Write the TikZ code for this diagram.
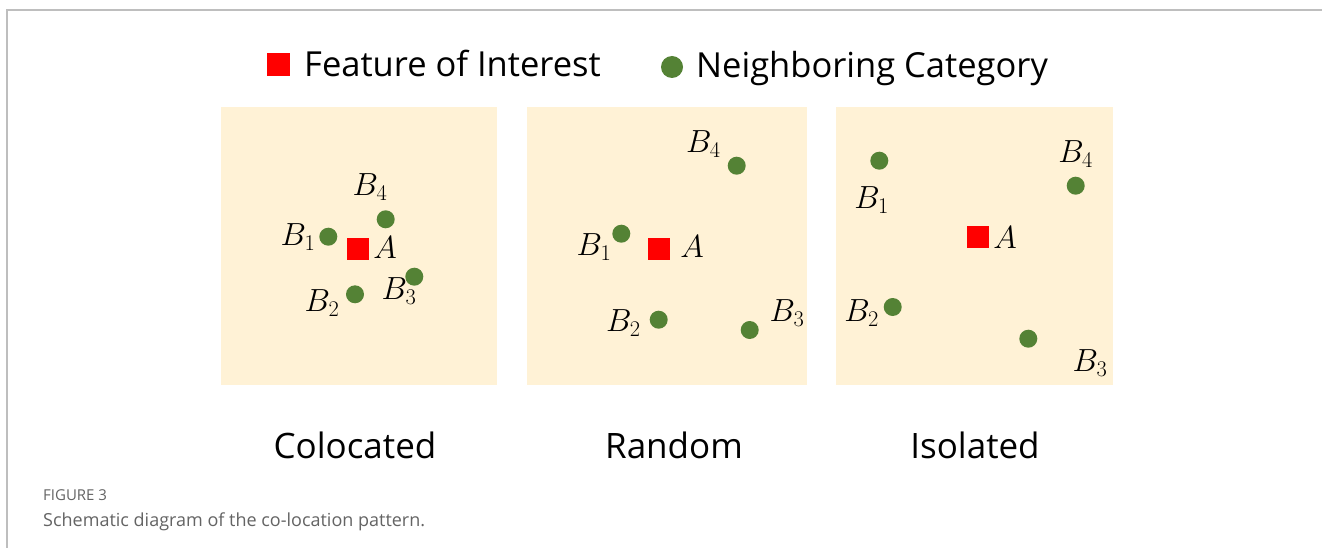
\documentclass[tikz,border=0pt]{standalone}
\usepackage{fix-cm}
\usepackage{fontspec}
\setmainfont{Open Sans}
\newfontfamily\legfont{Open Sans}
\newfontfamily\capfont{Open Sans}
\definecolor{panelbg}{RGB}{255,242,214}
\definecolor{dotgreen}{RGB}{84,130,53}
\definecolor{framegray}{RGB}{190,190,190}
\definecolor{capgray}{RGB}{100,100,100}
\tikzset{
  panel/.style={fill=panelbg, draw=none},
  feat/.style={fill=red, draw=none, minimum size=22pt, inner sep=0pt},
  nb/.style={circle, fill=dotgreen, draw=none, minimum size=18pt, inner sep=0pt},
  lbl/.style={inner sep=0pt, font=\fontsize{32}{36}\selectfont},
  ttl/.style={inner sep=0pt, anchor=base, font=\fontsize{35}{40}\selectfont},
  leg/.style={inner sep=0pt, anchor=base west, font=\legfont\fontsize{34.5}{40}\selectfont},
}
\begin{document}
\begin{tikzpicture}[x=1pt,y=-1pt]
\useasboundingbox (0,0) rectangle (1322,548);
\fill[white] (0,0) rectangle (1322,548);
\draw[framegray, line width=1.5pt] (1322,10) -- (7,10) -- (7,548);
% legend
\node[feat, minimum size=23pt] (legA) at (278,65) {};
\node[leg] (legAt) at (304,77) {Feature of Interest};
\node[nb, minimum size=22pt] (legB) at (672,67) {};
\node[leg] (legBt) at (696,78) {Neighboring Category};
% panels
\fill[panel] (221,107) rectangle (497,385);
\fill[panel] (527,107) rectangle (807,385);
\fill[panel] (836,107) rectangle (1113,385);
% panel 1: colocated
\node[feat] (p1A) at (358,248.5) {};
\node[lbl] (p1Al) at (385,248) {$A$};
\node[nb] (p1B1) at (328.3,236.7) {};
\node[lbl] (p1B1l) at (298,237) {$B_1$};
\node[nb] (p1B2) at (355,294.3) {};
\node[lbl] (p1B2l) at (322,303) {$B_2$};
\node[nb] (p1B3) at (414.3,276.7) {};
\node[lbl] (p1B3l) at (399,291) {$B_3$};
\node[nb] (p1B4) at (385.7,219.3) {};
\node[lbl] (p1B4l) at (370,187) {$B_4$};
% panel 2: random
\node[feat] (p2A) at (658.7,248.5) {};
\node[lbl] (p2Al) at (692,246.7) {$A$};
\node[nb] (p2B1) at (621.3,233.7) {};
\node[lbl] (p2B1l) at (594,246.7) {$B_1$};
\node[nb] (p2B2) at (658.7,319.7) {};
\node[lbl] (p2B2l) at (623.3,323.3) {$B_2$};
\node[nb] (p2B3) at (749.7,330) {};
\node[lbl] (p2B3l) at (787,313.3) {$B_3$};
\node[nb] (p2B4) at (736.7,165.7) {};
\node[lbl] (p2B4l) at (703.3,144) {$B_4$};
% panel 3: isolated
\node[feat] (p3A) at (978.2,236.5) {};
\node[lbl] (p3Al) at (1005,237.3) {$A$};
\node[nb] (p3B1) at (879.3,160.7) {};
\node[lbl] (p3B1l) at (871.7,200) {$B_1$};
\node[nb] (p3B2) at (892.7,307) {};
\node[lbl] (p3B2l) at (861.7,313.3) {$B_2$};
\node[nb] (p3B3) at (1028.3,338.7) {};
\node[lbl] (p3B3l) at (1090,363.3) {$B_3$};
\node[nb] (p3B4) at (1075.7,185.7) {};
\node[lbl] (p3B4l) at (1075.7,154) {$B_4$};
% titles
\node[ttl] (t1) at (355,458) {Colocated};
\node[ttl] (t2) at (674,458) {Random};
\node[ttl] (t3) at (975,458) {Isolated};
% caption
\node[inner sep=0pt, anchor=base west, text=capgray, font=\capfont\fontsize{15}{17}\selectfont] (fig) at (43,500) {FIGURE 3};
\node[inner sep=0pt, anchor=base west, text=capgray, font=\capfont\fontsize{18}{22}\selectfont] (cap) at (43,526) {Schematic diagram of the co-location pattern.};
\end{tikzpicture}
\end{document}
